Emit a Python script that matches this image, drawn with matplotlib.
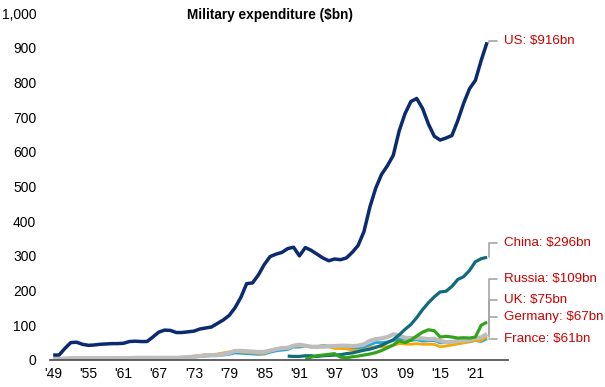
import numpy as np
import matplotlib
matplotlib.use("Agg")
import matplotlib.pyplot as plt

plt.rcParams["font.family"] = ["Liberation Sans", "DejaVu Sans"]

# military expenditure, $bn
years_us = list(range(1949, 2024))
us = [14, 14, 33, 50, 51, 45, 42, 43, 45, 46, 47, 47, 48, 53, 54, 53, 53, 66, 80, 86,
      85, 79, 79, 81, 83, 89, 92, 95, 105, 115, 128, 150, 180, 220, 222, 245, 275, 298,
      305, 310, 321, 325, 300, 324, 316, 305, 294, 286, 291, 289, 294, 310, 330, 370,
      440, 495, 535, 560, 590, 660, 710, 745, 754, 725, 680, 645, 634, 640, 647, 690,
      740, 782, 806, 864, 916]

years_uk = list(range(1949, 2024))
uk = [3, 3, 4, 5, 5, 5, 5, 5, 5, 5, 5, 5, 5, 5, 6, 6, 6, 6, 6, 6,
      6, 6, 7, 8, 9, 11, 13, 14, 14, 16, 20, 26, 26, 25, 24, 23, 23, 27,
      31, 34, 35, 41, 44, 41, 38, 38, 38, 39, 40, 41, 41, 40, 41, 45,
      55, 60, 62, 66, 74, 70, 64, 63, 63, 62, 60, 61, 55, 51, 52, 55,
      56, 58, 63, 65, 75]

years_fr = list(range(1949, 2024))
france = [1, 2, 2, 3, 3, 3, 3, 3, 3, 4, 4, 4, 4, 4, 5, 5, 5, 5, 5, 6,
          6, 6, 7, 7, 8, 10, 11, 12, 12, 14, 16, 20, 19, 18, 17, 16, 17, 22,
          26, 28, 30, 37, 37, 40, 38, 38, 42, 40, 36, 36, 35, 33, 33, 35,
          43, 50, 50, 52, 56, 60, 60, 56, 58, 54, 55, 56, 49, 50, 51, 54,
          51, 52, 56, 53, 61]

years_de = list(range(1953, 2024))
germany = [2, 2, 2, 3, 3, 3, 3, 4, 4, 4, 4, 5, 5, 5, 5, 5, 6, 6, 8,
           9, 11, 13, 15, 15, 17, 20, 23, 25, 23, 22, 21, 19, 19, 26, 32,
           34, 33, 42, 40, 42, 37, 36, 41, 38, 33, 33, 32, 28, 27, 29, 35,
           38, 38, 38, 42, 47, 46, 45, 47, 45, 45, 45, 38, 40, 43, 46, 49,
           53, 56, 56, 67]

years_cn = list(range(1989, 2024))
china = [11, 10, 10, 12, 12, 10, 12, 13, 14, 15, 18, 20, 24, 28, 31, 36, 42, 50,
         58, 72, 88, 102, 122, 145, 165, 182, 196, 198, 212, 232, 240, 258, 283,
         292, 296]

years_ru = list(range(1992, 2024))
russia = [2, 8, 12, 14, 16, 18, 8, 6, 9, 11, 14, 17, 21, 27, 35, 43, 55, 50, 57,
          69, 80, 87, 84, 66, 68, 66, 63, 64, 63, 66, 100, 109]

xticks = list(range(1949, 2024, 6))
xticklabels = ["'" + str(y)[2:] for y in xticks]
yticks = list(range(0, 1001, 100))

labels = [
    ("US: $916bn", years_us, us, 920),
    ("China: $296bn", years_cn, china, 337),
    ("Russia: $109bn", years_ru, russia, 233),
    ("UK: $75bn", years_uk, uk, 172),
    ("Germany: $67bn", years_de, germany, 123),
    ("France: $61bn", years_fr, france, 59),
]

fig = plt.figure(figsize=(6.05, 3.87), dpi=100)
ax = fig.add_axes([0.083, 0.070, 0.757, 0.896])

ax.plot(years_fr, france, color="#2aa6de", lw=2.0, solid_capstyle="butt")
ax.plot(years_de, germany, color="#f5a800", lw=2.0, solid_capstyle="butt")
ax.plot(years_uk, uk, color="#bdbdbd", lw=3.0, solid_capstyle="butt")
ax.plot(years_cn, china, color="#0f6b7d", lw=2.3, solid_capstyle="butt")
ax.plot(years_ru, russia, color="#33a31c", lw=2.3, solid_capstyle="butt")
ax.plot(years_us, us, color="#0b2a6f", lw=2.5, solid_capstyle="butt")

ax.set_xlim(1948.5, 2026.6)
ax.set_ylim(0, 1000)
ax.set_xticks(xticks)
ax.set_xticklabels(xticklabels)
ax.set_yticks(yticks)
ax.set_yticklabels(["{:,}".format(v) for v in yticks])
ax.tick_params(axis="both", length=0, labelsize=10, colors="black")
ax.tick_params(axis="y", pad=10)
ax.tick_params(axis="x", pad=5)
for s in ["top", "right", "left"]:
    ax.spines[s].set_visible(False)
ax.spines["bottom"].set_color("#555555")
ax.spines["bottom"].set_linewidth(1.3)

for text, xs, ys, ly in labels:
    ax.annotate(text.replace("$", r"\$"), xy=(xs[-1] + 0.35, ys[-1]), xytext=(2025.8, ly),
                ha="left", va="center", color="#cc0000", fontsize=9.6,
                annotation_clip=False,
                arrowprops=dict(arrowstyle="-", color="#a6a6a6", lw=1.2,
                                shrinkA=3, shrinkB=0,
                                connectionstyle="angle,angleA=0,angleB=90,rad=0"))

fig.text(0.446, 0.962, "Military expenditure ($bn)", ha="center", va="center",
         fontsize=9.8, fontweight="bold")

fig.savefig("out.png", dpi=100)
